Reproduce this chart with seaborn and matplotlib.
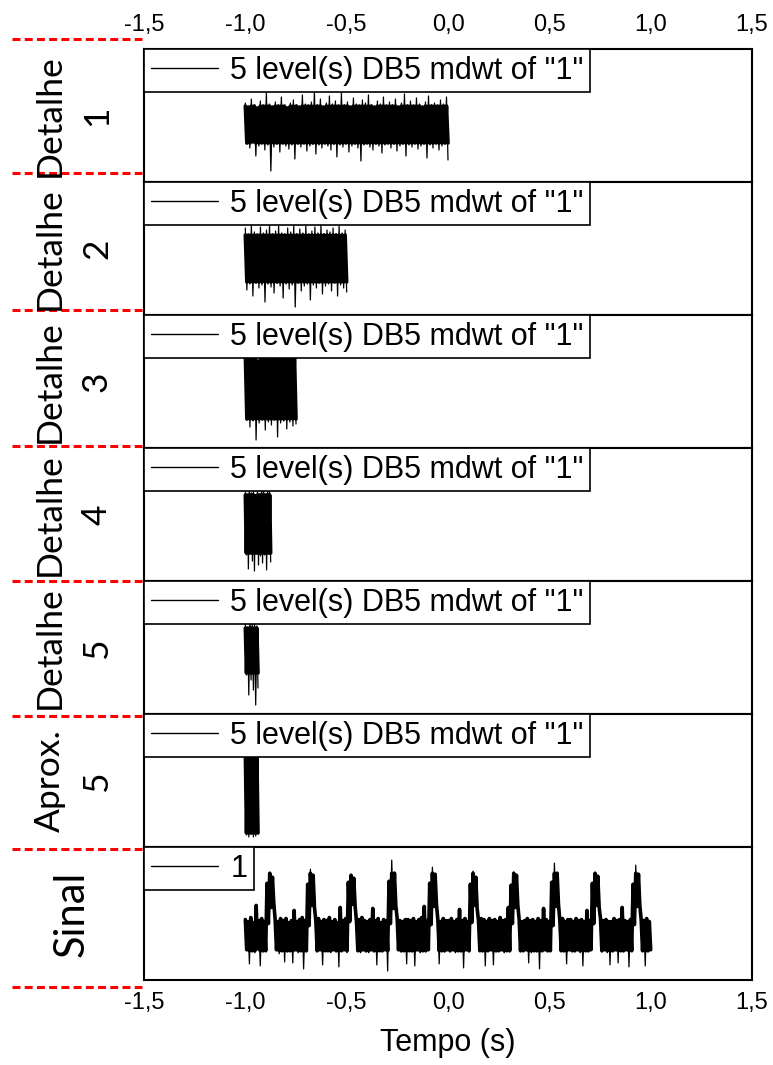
import numpy as np
import matplotlib
matplotlib.use("Agg")
import matplotlib.pyplot as plt
from matplotlib.lines import Line2D
import seaborn as sns

# =====================================================================
# data (amplitudes ~ pixels around each band centre)
# each panel: upper / lower envelope samples, drawn as one zig-zag trace
# =====================================================================
ROW_NAMES = ["Detalhe", "Detalhe", "Detalhe", "Detalhe", "Detalhe", "Aprox.", "Sinal"]
ROW_LEVELS = ["1", "2", "3", "4", "5", "5", ""]
LEGEND_TEXT = ['5 level(s) DB5 mdwt of "1"'] * 6 + ["1"]
T_START = [-1.0, -1.0, -1.0, -1.0, -1.0, -1.0, -1.0]
T_END = [0.0, -0.5, -0.75, -0.875, -0.9375, -0.9375, 1.0]
X_TICKS = [-1.5, -1.0, -0.5, 0.0, 0.5, 1.0, 1.5]
X_TICKLABELS = ["-1,5", "-1,0", "-0,5", "0,0", "0,5", "1,0", "1,5"]

d1_up = [23, 19, 27, 21, 18, 25, 20, 33, 22, 19,
         24, 21, 29, 20, 18, 23, 26, 21, 19, 31,
         22, 20, 24, 35, 21, 27, 19, 23, 30, 22,
         25, 20, 33, 21, 24, 19, 28, 22, 20, 26,
         23, 31, 21, 19, 25, 22, 29, 20, 24, 21,
         27, 19, 23, 32, 21, 25, 20, 28, 22, 19,
         24, 30, 21, 23, 20, 26, 22, 29]
d1_lo = [-18, -22, -16, -30, -20, -17, -24, -19, -45, -21,
         -18, -26, -17, -20, -23, -19, -33, -18, -21, -17,
         -25, -20, -18, -28, -19, -22, -17, -20, -24, -18,
         -31, -19, -21, -17, -26, -20, -18, -22, -35, -19,
         -17, -21, -24, -18, -20, -27, -19, -17, -22, -18,
         -25, -20, -18, -30, -19, -21, -17, -23, -20, -18,
         -32, -19, -22, -17, -24, -20, -18, -34]

d2_up = [30, 24, 33, 26, 23, 31, 25, 28, 33, 24,
         27, 32, 25, 23, 30, 26, 33, 24, 29, 25,
         32, 23, 27, 31, 25, 33, 24, 28, 26, 30,
         24, 32, 25, 28]
d2_lo = [-32, -26, -38, -25, -30, -27, -44, -26, -29, -35,
         -25, -28, -40, -26, -31, -27, -49, -25, -33, -28,
         -26, -42, -27, -30, -25, -36, -28, -26, -33, -25,
         -38, -27, -30, -34]

d3_up = [40, 26, 45, 38, 24, 42, 36, 40, 25, 44, 37, 39, 26, 43, 38, 28, 41]
d3_lo = [-35, -42, -36, -55, -38, -34, -45, -37, -40, -35, -52, -38, -36, -44, -37, -41, -39]

d4_up = [40, 30, 45, 32, 38, 29, 42, 31, 36, 44, 30, 39, 33]
d4_lo = [-30, -44, -28, -36, -46, -29, -40, -31, -38, -30, -45, -29, -37]

d5_up = [30, 22, 35, 26, 28, 24]
d5_lo = [-25, -45, -30, -40, -55, -38]

a5_up = [45, 42, 46, 44, 43, 45]
a5_lo = [-38, -40, -37, -40, -39, -36]

sig_up = [16, 14, 18, 13, 30, 15, 17, 14, 52, 62, 58, 16, 14, 17, 15,
          17, 13, 15, 25, 14, 16, 18, 15, 51, 66, 60, 15, 17, 14, 16,
          15, 18, 14, 16, 13, 28, 15, 17, 53, 60, 57, 14, 16, 18, 15,
          14, 16, 27, 15, 17, 13, 16, 15, 54, 75, 63, 17, 15, 14, 16,
          16, 15, 17, 14, 16, 18, 29, 15, 52, 68, 61, 16, 14, 17, 15,
          15, 17, 14, 16, 26, 15, 17, 14, 51, 64, 58, 15, 17, 16, 14,
          17, 15, 16, 14, 18, 15, 16, 28, 50, 63, 60, 16, 14, 15, 17,
          15, 16, 14, 17, 15, 27, 16, 14, 53, 72, 62, 15, 17, 14, 16,
          16, 14, 17, 15, 16, 14, 25, 15, 52, 62, 59, 17, 15, 16, 14,
          14, 17, 15, 16, 28, 15, 14, 16, 51, 70, 61, 16, 15, 17, 14]
sig_lo = [-14, -28, -15, -17, -13, -30, -16, -15, 12, 28, 32, -14, -18, -15, -26,
          -16, -15, -27, -14, -17, -15, -33, -16, 10, 30, 28, -16, -14, -29, -15,
          -15, -17, -14, -16, -31, -15, -14, -17, 14, 31, 29, -15, -17, -14, -16,
          -17, -14, -16, -29, -15, -16, -14, -35, 12, 27, 30, -14, -16, -15, -28,
          -15, -16, -30, -14, -17, -15, -16, -14, 11, 29, 31, -28, -15, -16, -14,
          -16, -14, -17, -15, -16, -32, -14, -16, 13, 30, 27, -15, -16, -30, -15,
          -14, -29, -16, -15, -14, -17, -15, -16, 12, 28, 30, -16, -15, -14, -27,
          -17, -15, -16, -33, -15, -14, -16, -15, 10, 29, 31, -15, -16, -28, -14,
          -15, -16, -14, -17, -30, -15, -16, -14, 12, 30, 28, -16, -14, -17, -29,
          -16, -14, -27, -15, -16, -14, -31, -15, 11, 29, 30, -15, -30, -16, -14]

UPPER = [d1_up, d2_up, d3_up, d4_up, d5_up, a5_up, sig_up]
LOWER = [d1_lo, d2_lo, d3_lo, d4_lo, d5_lo, a5_lo, sig_lo]
# dense (solid black) part of each band
CORE = [(-17, 20), (-24, 23), (-34, 30), (-28, 30), (-23, 22), (-36, 45), (-15, 62)]

# =====================================================================
# layout (pixels of the 773x1065 reference)
# =====================================================================
W, H = 773, 1065
AX_L, AX_R = 144, 752
TOP0, PH = 49, 133
Y_LIMS = [(-56, 77), (-57, 76), (-63, 70), (-56, 77), (-64, 69), (-50, 83), (-44, 88)]
RED_Y = [39, 173, 310, 446, 581, 716, 849, 987]

sns.set_style("white")
plt.rcParams["font.family"] = ["Liberation Sans", "DejaVu Sans"]
plt.rcParams["text.color"] = "black"
plt.rcParams["xtick.color"] = "black"
plt.rcParams["axes.labelcolor"] = "black"
LABEL_FONT = ["Lato", "DejaVu Sans"]

fig = plt.figure(figsize=(W / 100, H / 100), dpi=100)

for k in range(7):
    top = TOP0 + PH * k
    ax = fig.add_axes([AX_L / W, 1 - (top + PH) / H, (AX_R - AX_L) / W, PH / H])

    up, lo = UPPER[k], LOWER[k]
    n = min(len(up), len(lo))
    x = np.linspace(T_START[k], T_END[k], 2 * n)
    y = np.column_stack([up[:n], lo[:n]]).ravel()
    # solid core, then the thin full trace with its spikes
    sns.lineplot(x=x, y=np.clip(y, *CORE[k]), ax=ax, color="black", lw=2.6,
                 sort=False, estimator=None, legend=False)
    sns.lineplot(x=x, y=y, ax=ax, color="black", lw=0.9, sort=False,
                 estimator=None, legend=False)

    ax.set_xlim(-1.5, 1.5)
    ax.set_ylim(*Y_LIMS[k])
    ax.set_yticks([])
    ax.set_xticks(X_TICKS)
    ax.set_xlabel("")
    ax.set_ylabel("")
    if k == 0:
        ax.xaxis.tick_top()
        ax.set_xticklabels(X_TICKLABELS, fontsize=17)
        ax.tick_params(axis="x", length=0, pad=9)
    elif k == 6:
        ax.set_xticklabels(X_TICKLABELS, fontsize=17)
        ax.tick_params(axis="x", length=0, pad=9)
    else:
        ax.set_xticklabels([])
        ax.tick_params(axis="x", length=0)
    for sp in ax.spines.values():
        sp.set_visible(True)
        sp.set_color("black")
        sp.set_linewidth(1.5)

    leg = ax.legend(handles=[Line2D([], [], color="black", lw=1.0)],
                    labels=[LEGEND_TEXT[k]], loc="upper left",
                    bbox_to_anchor=(0, 1), borderaxespad=0, fontsize=22,
                    frameon=True, fancybox=False, framealpha=1,
                    edgecolor="black", borderpad=0.22, handlelength=2.2,
                    handletextpad=0.4)
    leg.get_frame().set_linewidth(1.2)
    for t in leg.get_texts():
        t.set_color("black")

    yc = 1 - (top + PH / 2) / H
    if ROW_LEVELS[k]:
        fig.text(50 / W, yc, ROW_NAMES[k], rotation=90, ha="center", va="center",
                 fontsize=25.5, family=LABEL_FONT)
        fig.text(97 / W, yc, ROW_LEVELS[k], rotation=90, ha="center", va="center",
                 fontsize=25.5, family=LABEL_FONT)
    else:
        fig.text(72 / W, yc, ROW_NAMES[k], rotation=90, ha="center", va="center",
                 fontsize=30, family=LABEL_FONT)

# red dashed separators on the left
for ry in RED_Y:
    fig.add_artist(Line2D([12 / W, 142 / W], [1 - ry / H, 1 - ry / H], color="red",
                          lw=2.2, ls=(0, (2.6, 1.4)), transform=fig.transFigure))

fig.text((AX_L + AX_R) / 2 / W, 1 - 1043 / H, "Tempo (s)", ha="center", va="center",
         fontsize=22)

fig.savefig("out.png", dpi=100)
